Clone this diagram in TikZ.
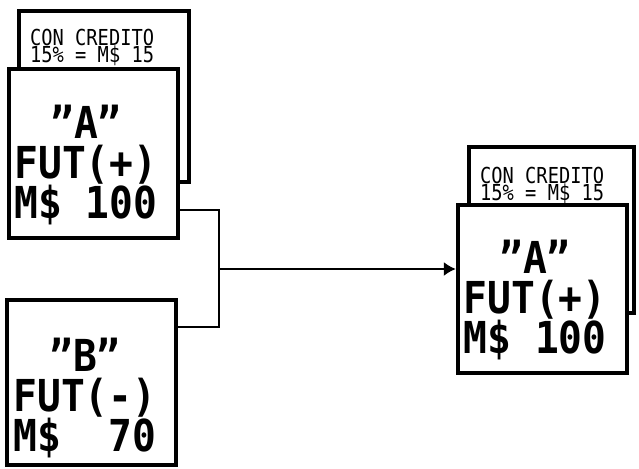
\documentclass[tikz,border=0pt]{standalone}
\usepackage{fontspec}
\newfontfamily\fuentePC{DejaVu Sans Mono}[FakeStretch=0.9]
\newfontfamily\fuenteChica{DejaVu Sans Mono}[FakeStretch=0.85]
\usetikzlibrary{arrows.meta, positioning}
\tikzset{
  cajaBase/.style={
    draw=black, line width=4.5pt, fill=white, inner sep=0pt
  },
  cajaFondo/.style={cajaBase},
  cajaFrente/.style={cajaBase, minimum width=169pt},
  textoChico/.style={
    font=\fuenteChica\fontsize{22pt}{17pt}\selectfont,
    inner sep=0pt, anchor=base west
  },
  textoGrande/.style={
    font=\fuentePC\bfseries\fontsize{44pt}{40pt}\selectfont,
    align=center, inner sep=0pt, anchor=north
  },
  linea/.style={line width=1.6pt, black},
  flecha/.style={-{Latex[length=12pt, width=14pt]}, line width=1.6pt, black},
}
\begin{document}
\begin{tikzpicture}[x=1pt, y=-1pt]
  \useasboundingbox (0,0) rectangle (639,468);
  % columna izquierda
  \node[cajaFondo, minimum width=170pt, minimum height=171pt] (fondoA) at (104,96.5) {};
  \node[textoChico] (creditoA) at (30,46) {CON CREDITO};
  \node[textoChico] (tasaA) at (30,63) {15\% = M\$ 15};
  \node[cajaFrente, minimum height=169pt] (futA) at (93.5,153.5) {};
  \node[textoGrande] (textoA) at (86,105) {”A”\\FUT(+)\\M\$ 100};
  \node[cajaFrente, minimum height=165pt] (futB) at (91.5,382.5) {};
  \node[textoGrande] (textoB) at (85,338) {”B”\\FUT(-)\\M\$\ \ 70};
  % columna derecha
  \node[cajaFondo, minimum width=165pt, minimum height=166pt] (fondoC) at (551.5,230) {};
  \node[textoChico] (creditoC) at (480,183) {CON CREDITO};
  \node[textoChico] (tasaC) at (480,200) {15\% = M\$ 15};
  \node[cajaFrente, minimum height=168pt] (futC) at (542.5,289) {};
  \node[textoGrande] (textoC) at (535,240) {”A”\\FUT(+)\\M\$ 100};
  % conectores
  \coordinate (union) at (219,269);
  \draw[linea] ([yshift=-56.5pt]futA.east) -| (union) |- ([yshift=55.5pt]futB.east);
  \draw[flecha] (union) -- (union -| futC.west);
\end{tikzpicture}
\end{document}
